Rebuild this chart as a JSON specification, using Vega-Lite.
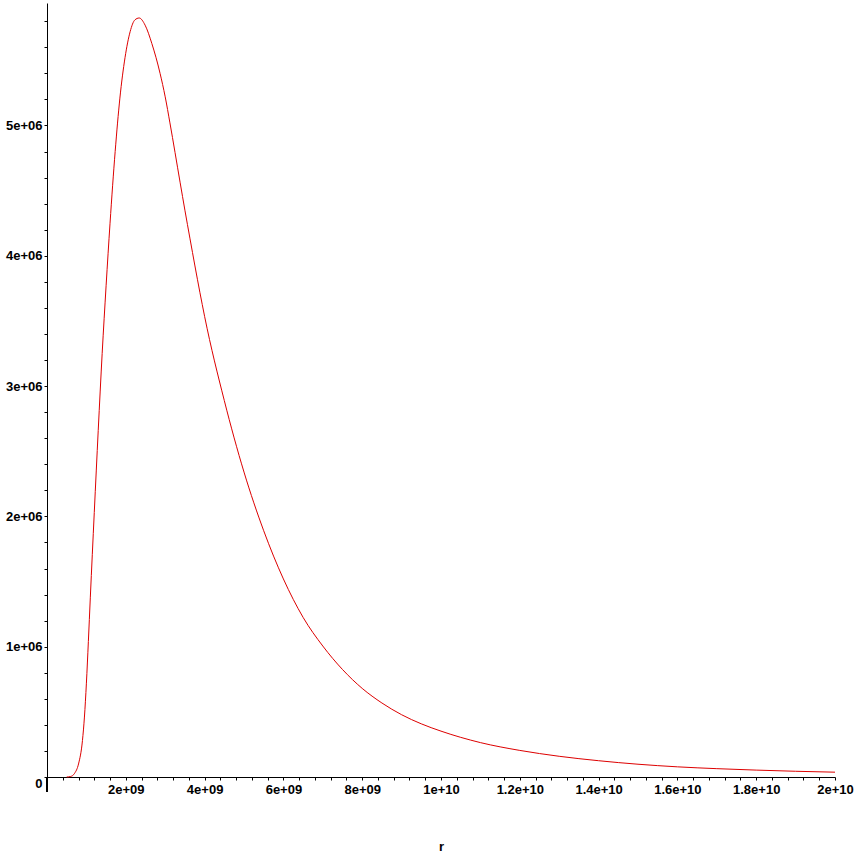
{
  "$schema": "https://vega.github.io/schema/vega-lite/v6.json",
  "width": 788,
  "height": 774,
  "autosize": {"type": "none"},
  "padding": {"left": 47, "top": 3, "right": 26, "bottom": 84},
  "background": "white",
  "config": {
    "view": {"stroke": null},
    "axis": {
      "labelFont": "Liberation Sans",
      "labelFontWeight": "bold",
      "labelFontSize": 13,
      "labelColor": "black",
      "titleFont": "Liberation Sans",
      "titleFontWeight": "bold",
      "titleFontSize": 13,
      "titleColor": "black",
      "domainColor": "black",
      "tickColor": "black",
      "grid": false,
      "zindex": 1
    }
  },
  "data": {
    "values": [
      {"r": 5.0e8, "f": 0},
      {"r": 6.0e8, "f": 4000},
      {"r": 7.0e8, "f": 28000},
      {"r": 8.0e8, "f": 100000},
      {"r": 9.0e8, "f": 280000},
      {"r": 9.5e8, "f": 460000},
      {"r": 1.0e9, "f": 720000},
      {"r": 1.05e9, "f": 1040000},
      {"r": 1.1e9, "f": 1380000},
      {"r": 1.2e9, "f": 2030000},
      {"r": 1.3e9, "f": 2660000},
      {"r": 1.4e9, "f": 3250000},
      {"r": 1.5e9, "f": 3770000},
      {"r": 1.6e9, "f": 4250000},
      {"r": 1.73e9, "f": 4800000},
      {"r": 1.85e9, "f": 5210000},
      {"r": 1.98e9, "f": 5520000},
      {"r": 2.11e9, "f": 5720000},
      {"r": 2.23e9, "f": 5810000},
      {"r": 2.34e9, "f": 5825000},
      {"r": 2.49e9, "f": 5770000},
      {"r": 2.66e9, "f": 5630000},
      {"r": 2.87e9, "f": 5400000},
      {"r": 3.0e9, "f": 5220000},
      {"r": 3.12e9, "f": 5020000},
      {"r": 3.38e9, "f": 4560000},
      {"r": 3.5e9, "f": 4350000},
      {"r": 3.63e9, "f": 4130000},
      {"r": 3.88e9, "f": 3720000},
      {"r": 4.0e9, "f": 3535000},
      {"r": 4.5e9, "f": 2889000},
      {"r": 5.0e9, "f": 2340000},
      {"r": 5.5e9, "f": 1890000},
      {"r": 6.0e9, "f": 1520000},
      {"r": 6.5e9, "f": 1225000},
      {"r": 7.0e9, "f": 1005000},
      {"r": 7.5e9, "f": 825000},
      {"r": 8.0e9, "f": 680000},
      {"r": 8.5e9, "f": 568000},
      {"r": 9.0e9, "f": 478000},
      {"r": 9.5e9, "f": 408000},
      {"r": 1.0e10, "f": 352000},
      {"r": 1.1e10, "f": 264000},
      {"r": 1.2e10, "f": 204000},
      {"r": 1.3e10, "f": 159000},
      {"r": 1.4e10, "f": 125000},
      {"r": 1.5e10, "f": 98000},
      {"r": 1.6e10, "f": 78000},
      {"r": 1.7e10, "f": 64000},
      {"r": 1.8e10, "f": 53000},
      {"r": 1.9e10, "f": 44000},
      {"r": 2.0e10, "f": 37000}
    ]
  },
  "layer": [
    {
      "mark": {"type": "line", "color": "#dd0000", "strokeWidth": 1, "interpolate": "monotone"},
      "encoding": {
        "x": {
          "field": "r", "type": "quantitative",
          "scale": {"domain": [0, 2e10], "nice": false, "zero": false},
          "axis": {
            "title": "r",
            "titlePadding": 44,
            "tickSize": 3,
            "tickCount": 200,
            "labelPadding": 3,
            "labelFlush": false,
            "labelOverlap": false,
            "values": [0, 4e8, 8e8, 1.2e9, 1.6e9, 2e9, 2.4e9, 2.8e9, 3.2e9, 3.6e9, 4e9, 4.4e9, 4.8e9, 5.2e9, 5.6e9, 6e9, 6.4e9, 6.8e9, 7.2e9, 7.6e9, 8e9, 8.4e9, 8.8e9, 9.2e9, 9.6e9, 1e10, 1.04e10, 1.08e10, 1.12e10, 1.16e10, 1.2e10, 1.24e10, 1.28e10, 1.32e10, 1.36e10, 1.4e10, 1.44e10, 1.48e10, 1.52e10, 1.56e10, 1.6e10, 1.64e10, 1.68e10, 1.72e10, 1.76e10, 1.8e10, 1.84e10, 1.88e10, 1.92e10, 1.96e10, 2e10],
            "labelExpr": "(round(datum.value/4e8) % 5 != 0 || datum.value == 0) ? '' : (datum.value < 9.9e9 ? round(datum.value/1e9) + 'e+09' : format(datum.value/1e10, '~g') + 'e+10')"
          }
        },
        "y": {
          "field": "f", "type": "quantitative",
          "scale": {"domain": [0, 5940000], "nice": false, "zero": false},
          "axis": {
            "title": null,
            "tickSize": 3,
            "tickCount": 200,
            "labelPadding": 2,
            "labelFlush": false,
            "labelOverlap": false,
            "labelOffset": {"condition": {"test": "datum.value == 0", "value": 6}, "value": 0},
            "values": [0, 200000, 400000, 600000, 800000, 1000000, 1200000, 1400000, 1600000, 1800000, 2000000, 2200000, 2400000, 2600000, 2800000, 3000000, 3200000, 3400000, 3600000, 3800000, 4000000, 4200000, 4400000, 4600000, 4800000, 5000000, 5200000, 5400000, 5600000, 5800000],
            "labelExpr": "round(datum.value/2e5) % 5 != 0 ? '' : (datum.value == 0 ? '0' : round(datum.value/1e6) + 'e+06')"
          }
        }
      }
    },
    {
      "mark": {"type": "rule", "color": "black", "strokeWidth": 1},
      "encoding": {
        "x": {"datum": 0, "type": "quantitative"},
        "y": {"datum": 0, "type": "quantitative"},
        "y2": {"datum": -115000}
      }
    }
  ]
}
